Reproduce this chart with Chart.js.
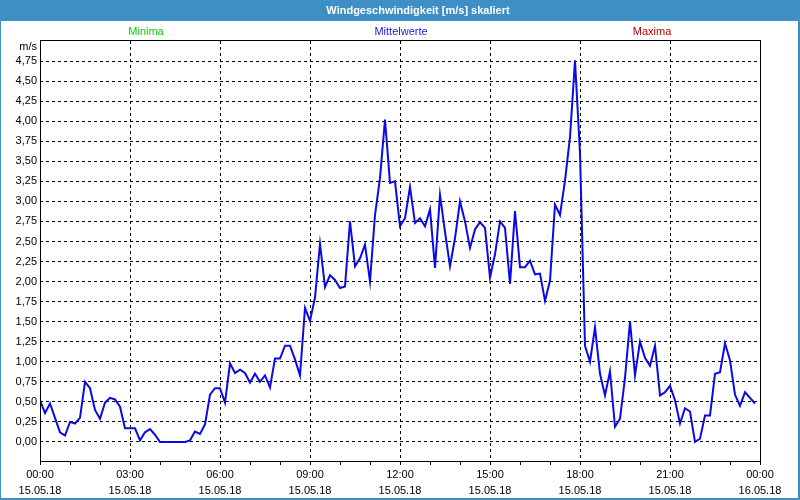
<!DOCTYPE html>
<html>
<head>
<meta charset="utf-8">
<script src="https://cdn.jsdelivr.net/npm/chart.js@4/dist/chart.umd.min.js"></script>
<style>
html,body{margin:0;padding:0;background:#ffffff;}
#wrap{width:800px;height:500px;position:relative;}
</style>
</head>
<body>
<div id="wrap"><canvas id="c" width="800" height="500"></canvas></div>
<script>
// ---- data ----
const chartTitle = 'Windgeschwindigkeit [m/s] skaliert';
const seriesNames = ['Minima', 'Mittelwerte', 'Maxima'];
const seriesColors = ['#14c814', '#2020e0', '#b40000'];
const unitLabel = 'm/s';
const timeLabels = ['00:00', '03:00', '06:00', '09:00', '12:00', '15:00', '18:00', '21:00', '00:00'];
const dateLabels = ['15.05.18', '15.05.18', '15.05.18', '15.05.18', '15.05.18', '15.05.18', '15.05.18', '15.05.18', '16.05.18'];
const stepMinutes = 10; // one value every 10 minutes, starting 15.05.18 00:00
const meanWind = [
  0.52, 0.36, 0.48, 0.30, 0.12, 0.08, 0.25, 0.23, 0.30, 0.75,
  0.67, 0.40, 0.29, 0.49, 0.55, 0.53, 0.44, 0.17, 0.17, 0.17,
  0.02, 0.12, 0.16, 0.09, 0.00, 0.00, 0.00, 0.00, 0.00, 0.00,
  0.02, 0.13, 0.10, 0.22, 0.59, 0.67, 0.67, 0.49, 0.98, 0.86,
  0.90, 0.86, 0.74, 0.85, 0.75, 0.83, 0.68, 1.04, 1.04, 1.20,
  1.20, 1.03, 0.83, 1.67, 1.51, 1.80, 2.47, 1.93, 2.08, 2.02,
  1.92, 1.94, 2.75, 2.19, 2.29, 2.46, 2.00, 2.83, 3.29, 4.02,
  3.23, 3.25, 2.69, 2.79, 3.18, 2.73, 2.79, 2.69, 2.90, 2.17,
  3.08, 2.62, 2.19, 2.54, 3.00, 2.75, 2.42, 2.65, 2.74, 2.67,
  2.05, 2.34, 2.75, 2.67, 1.97, 2.88, 2.18, 2.18, 2.26, 2.09,
  2.10, 1.76, 2.01, 2.96, 2.83, 3.26, 3.80, 4.76, 3.60, 1.20,
  1.00, 1.43, 0.85, 0.58, 0.88, 0.19, 0.29, 0.80, 1.50, 0.83,
  1.25, 1.05, 0.95, 1.20, 0.58, 0.62, 0.70, 0.52, 0.23, 0.42,
  0.38, 0.00, 0.04, 0.33, 0.33, 0.85, 0.87, 1.23, 1.02, 0.59,
  0.45, 0.62, 0.55, 0.48
];
const yMin = -0.25, yMax = 5.0, yStep = 0.25;
const xMin = 0, xMax = 24, labelEveryHours = 3;

const FONT = '"Liberation Sans", Arial, sans-serif';
const points = meanWind.map((v, i) => ({ x: i * stepMinutes / 60, y: v }));

const decorPlugin = {
  id: 'decor',
  beforeDraw(chart) {
    const ctx = chart.ctx;
    const W = chart.width, H = chart.height;
    ctx.save();
    ctx.fillStyle = '#ffffff';
    ctx.fillRect(0, 0, W, H);
    // title bar + window border
    ctx.fillStyle = '#3d8fc6';
    ctx.fillRect(0, 0, W, 21);
    ctx.fillRect(0, 0, 1, H);
    ctx.fillRect(W - 2, 0, 2, H);
    ctx.fillRect(0, H - 2, W, 2);
    ctx.fillStyle = '#ffffff';
    ctx.font = 'bold 11px ' + FONT;
    ctx.textAlign = 'center';
    ctx.textBaseline = 'middle';
    ctx.fillText(chartTitle, 418, 11);
    // series header
    ctx.font = '11px ' + FONT;
    const pos = [146, 401, 652];
    seriesNames.forEach((n, i) => {
      ctx.fillStyle = seriesColors[i];
      ctx.fillText(n, pos[i], 32);
    });
    // unit
    ctx.fillStyle = '#000000';
    ctx.textAlign = 'right';
    ctx.fillText(unitLabel, 37, 47);
    ctx.restore();
  },
  afterDraw(chart) {
    const ctx = chart.ctx, a = chart.chartArea;
    ctx.save();
    ctx.strokeStyle = '#000000';
    ctx.lineWidth = 1;
    ctx.setLineDash([]);
    ctx.strokeRect(a.left + 0.5, a.top - 0.5, a.right - a.left, a.bottom - a.top);
    ctx.restore();
  }
};

new Chart(document.getElementById('c'), {
  type: 'line',
  data: {
    datasets: [{
      label: seriesNames[1],
      data: points,
      borderColor: '#0a0ae6',
      borderWidth: 2,
      pointRadius: 0,
      tension: 0,
      fill: false
    }]
  },
  options: {
    responsive: false,
    animation: false,
    events: [],
    layout: { padding: { top: 41, right: 40, left: 0, bottom: 0 } },
    plugins: { legend: { display: false }, title: { display: false }, tooltip: { enabled: false } },
    scales: {
      x: {
        type: 'linear',
        min: xMin, max: xMax,
        afterFit(s) { s.height = 38; },
        border: { display: false, dash: [3, 3] },
        grid: {
          color: c => (c.tick && c.tick.value % labelEveryHours === 0 && c.tick.value > xMin && c.tick.value < xMax) ? '#000000' : 'rgba(0,0,0,0)',
          lineWidth: 1,
          drawTicks: true,
          tickLength: 3,
          tickColor: '#000000',
          tickBorderDash: []
        },
        ticks: {
          stepSize: 1,
          autoSkip: false,
          maxRotation: 0,
          padding: 2,
          color: '#000000',
          font: { family: FONT, size: 11, lineHeight: 1.45 },
          callback: v => (v % labelEveryHours === 0) ? [timeLabels[v / labelEveryHours], dateLabels[v / labelEveryHours]] : ''
        }
      },
      y: {
        type: 'linear',
        min: yMin, max: yMax,
        afterFit(s) { s.width = 40; },
        border: { display: false, dash: [3, 3] },
        grid: {
          color: c => (c.tick && c.tick.value > yMin + 1e-9 && c.tick.value < yMax - 1e-9) ? '#000000' : 'rgba(0,0,0,0)',
          lineWidth: 1,
          drawTicks: false
        },
        ticks: {
          stepSize: yStep,
          autoSkip: false,
          padding: 3,
          color: '#000000',
          font: { family: FONT, size: 11 },
          callback: v => (v < -1e-9 || v > yMax - 1e-9) ? '' : v.toFixed(2).replace('.', ',')
        }
      }
    }
  },
  plugins: [decorPlugin]
});
</script>
</body>
</html>
